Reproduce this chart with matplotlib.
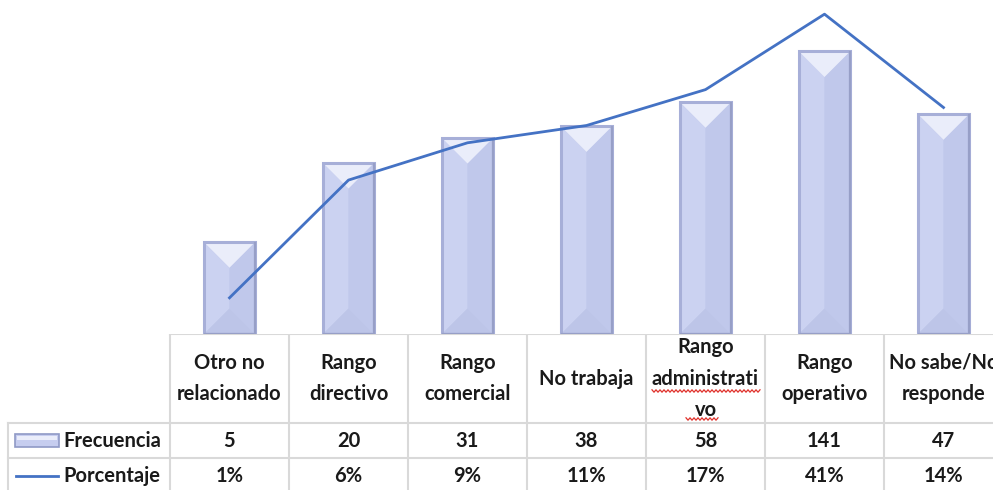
import numpy as np
import matplotlib.pyplot as plt
from matplotlib.patches import Polygon, Rectangle

# data
categories = ["Otro no\nrelacionado", "Rango\ndirectivo", "Rango\ncomercial", "No trabaja",
              "Rango\nadministrati\nvo", "Rango\noperativo", "No sabe/No\nresponde"]
frecuencia = [5, 20, 31, 38, 58, 141, 47]
porcentaje = [1.47, 5.88, 9.12, 11.18, 17.06, 41.47, 13.82]
pct_labels = ["1%", "6%", "9%", "11%", "17%", "41%", "14%"]
row_names = ["Frecuencia", "Porcentaje"]

plt.rcParams['font.family'] = ['Lato', 'DejaVu Sans']

W, H = 993, 490
fig = plt.figure(figsize=(W / 100, H / 100), dpi=100)

col_w = 119.0
x_left = 170.0
base_px = 334.0
n = len(categories)
x_right = x_left + n * col_w

# main chart area (log scale, like the original)
ax = fig.add_axes([x_left / W, (H - base_px) / H, (x_right - x_left) / W, base_px / H])
ax.set_yscale('log')
ax.set_ylim(1, 347)
ax.set_xlim(-0.5, n - 0.5)
ax.axis('off')

bar_w = 0.43
x = np.arange(n)
ax.bar(x, frecuencia, width=bar_w, color='#c6cdef', edgecolor='none', zorder=2)

# bevel facets (45 degree facets, depth = half the bar width in pixels)
half_px = bar_w / 2 * col_w
dec_per_px = np.log10(347 / 1) / base_px
fac = 10 ** (half_px * dec_per_px)
for xi, v in zip(x, frecuencia):
    x0, x1 = xi - bar_w / 2, xi + bar_w / 2
    top_apex = v / fac
    bot_apex = fac
    if top_apex < bot_apex:
        top_apex = bot_apex = np.sqrt(v)
    ax.add_patch(Polygon([(x0, 1), (x0, v), (xi, top_apex), (xi, bot_apex)],
                         closed=True, facecolor='#cbd2f1', edgecolor='none', zorder=3))
    ax.add_patch(Polygon([(x1, 1), (x1, v), (xi, top_apex), (xi, bot_apex)],
                         closed=True, facecolor='#c0c8eb', edgecolor='none', zorder=3))
    ax.add_patch(Polygon([(x0, v), (x1, v), (xi, top_apex)],
                         closed=True, facecolor='#eaedfa', edgecolor='none', zorder=3))
    ax.add_patch(Polygon([(x0, 1), (x1, 1), (xi, bot_apex)],
                         closed=True, facecolor='#bdc5e8', edgecolor='none', zorder=3))
    ax.add_patch(Rectangle((x0, 1), bar_w, v - 1, facecolor='none',
                           edgecolor='#a7afd8', linewidth=2.2, zorder=4))
    ax.plot([x1, x1, x0], [v, 1, 1], color='#979fc7', lw=1.6, zorder=4,
            solid_capstyle='butt')

ax2 = ax.twinx()
ax2.set_yscale('log')
ax2.set_ylim(0.96, 49)
ax2.axis('off')
ax2.plot(x, porcentaje, color='#4472c4', linewidth=2.0, zorder=5)

# data table below
tab = fig.add_axes([0, 0, x_right / W, (H - base_px) / H])
tab.set_xlim(0, x_right)
tab.set_ylim(H - base_px, 0)
tab.axis('off')

grid_c = '#d9d9d9'
lw = 1.5
hdr_h = 89
row_h = 35
label_left = 8
tab.plot([x_left, x_right], [0, 0], color=grid_c, lw=lw)
tab.plot([label_left, x_right], [hdr_h, hdr_h], color=grid_c, lw=lw)
tab.plot([label_left, x_right], [hdr_h + row_h, hdr_h + row_h], color=grid_c, lw=lw)
tab.plot([label_left, label_left], [hdr_h, H - base_px], color=grid_c, lw=lw)
for i in range(n + 1):
    xb = x_left + i * col_w
    tab.plot([xb, xb], [0, H - base_px], color=grid_c, lw=lw)

fs = 14.5
txt_c = '#1a1a1a'
for i, cat in enumerate(categories):
    xc = x_left + (i + 0.5) * col_w
    tab.text(xc, hdr_h / 2, cat, ha='center', va='center', fontsize=fs,
             fontweight='bold', color=txt_c, linespacing=1.72)
    tab.text(xc, hdr_h + row_h / 2, str(frecuencia[i]), ha='center', va='center',
             fontsize=fs, fontweight='bold', color=txt_c)
    tab.text(xc, hdr_h + row_h * 1.5, pct_labels[i], ha='center', va='center',
             fontsize=fs, fontweight='bold', color=txt_c)

# spell-check squiggles under "administrati" / "vo"
for xs, xe, yy in [(652, 760, 57), (686, 718, 85)]:
    zx = np.arange(xs, xe + 1, 2.0)
    zy = yy + np.where(np.arange(len(zx)) % 2 == 0, -1.2, 1.2)
    tab.plot(zx, zy, color='#e0302a', lw=0.9)

# row labels with legend keys
tab.add_patch(Rectangle((15, hdr_h + 11), 44, 13, facecolor='#c6cdef',
                        edgecolor='#8f99c6', linewidth=1.2))
tab.add_patch(Rectangle((17, hdr_h + 13), 40, 4, facecolor='#eaedfa', edgecolor='none'))
tab.text(63, hdr_h + row_h / 2, row_names[0], ha='left', va='center', fontsize=fs,
         fontweight='bold', color=txt_c)
tab.plot([16, 58], [hdr_h + row_h * 1.5, hdr_h + row_h * 1.5], color='#4472c4', lw=2.0)
tab.text(63, hdr_h + row_h * 1.5, row_names[1], ha='left', va='center', fontsize=fs,
         fontweight='bold', color=txt_c)

fig.savefig('out.png', dpi=100)
